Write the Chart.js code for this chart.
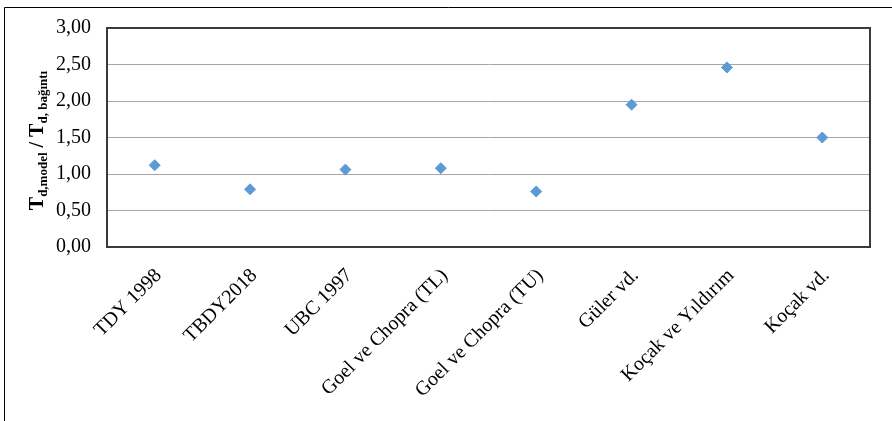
<!DOCTYPE html>
<html>
<head>
<meta charset="utf-8">
<script src="https://cdn.jsdelivr.net/npm/chart.js@4"></script>
<style>
  body { margin: 0; background: #fff; }
  #wrap { width: 892px; height: 421px; }
</style>
</head>
<body>
<div id="wrap"><canvas id="ratioChart"></canvas></div>
<script>
const categories = ['TDY 1998', 'TBDY2018', 'UBC 1997', 'Goel ve Chopra (TL)', 'Goel ve Chopra (TU)', 'Güler vd.', 'Koçak ve Yıldırım', 'Koçak vd.'];
const ratios = [1.12, 0.79, 1.06, 1.08, 0.76, 1.95, 2.46, 1.50];
const yTicks = [0, 0.5, 1, 1.5, 2, 2.5, 3];

const serif = '"Liberation Serif", "Times New Roman", serif';

// outer frame, plot frame and the y title with subscripts
const decor = {
    id: 'decor',
    beforeDatasetsDraw(chart) {
        const ctx = chart.ctx;
        const a = chart.chartArea;
        ctx.save();
        ctx.strokeStyle = '#000';
        ctx.lineWidth = 1;
        ctx.beginPath();
        ctx.moveTo(4.5, 421);
        ctx.lineTo(4.5, 7.5);
        ctx.lineTo(892, 7.5);
        ctx.stroke();

        ctx.strokeStyle = '#3a3a3a';
        ctx.lineWidth = 2;
        ctx.strokeRect(a.left, a.top, a.right - a.left, a.bottom - a.top);
        ctx.restore();
    },
    afterDraw(chart) {
        const ctx = chart.ctx;
        const a = chart.chartArea;
        const parts = [
            { t: 'T', size: 20, dy: 0 },
            { t: 'd,model', size: 13, dy: 4 },
            { t: ' / T', size: 20, dy: 0 },
            { t: 'd, bağıntı', size: 13, dy: 4 }
        ];
        ctx.save();
        ctx.fillStyle = '#000';
        let total = 0;
        parts.forEach(p => {
            ctx.font = 'bold ' + p.size + 'px ' + serif;
            p.w = ctx.measureText(p.t).width;
            total += p.w;
        });
        ctx.translate(43, (a.top + a.bottom) / 2 + 3);
        ctx.rotate(-Math.PI / 2);
        ctx.textBaseline = 'alphabetic';
        let x = -total / 2;
        parts.forEach(p => {
            ctx.font = 'bold ' + p.size + 'px ' + serif;
            ctx.fillText(p.t, x, p.dy);
            x += p.w;
        });
        ctx.restore();
    }
};

new Chart(document.getElementById('ratioChart'), {
    type: 'line',
    data: {
        labels: categories,
        datasets: [{
            data: ratios,
            showLine: false,
            pointStyle: 'rectRot',
            pointRadius: 5.5,
            pointHoverRadius: 5.5,
            pointBackgroundColor: '#5b9bd5',
            pointBorderColor: '#5b9bd5',
            pointBorderWidth: 1
        }]
    },
    options: {
        responsive: true,
        maintainAspectRatio: false,
        animation: false,
        layout: { padding: { left: 0, top: 27, right: 22, bottom: 0 } },
        plugins: {
            legend: { display: false },
            tooltip: { enabled: false }
        },
        scales: {
            x: {
                offset: true,
                grid: { display: false },
                border: { display: false },
                ticks: {
                    color: '#000',
                    font: { family: serif, size: 20 },
                    minRotation: 45,
                    maxRotation: 45,
                    padding: 9,
                    labelOffset: 4
                },
                afterFit(scale) { scale.height = 174; }
            },
            y: {
                min: 0,
                max: 3,
                afterBuildTicks(scale) { scale.ticks = yTicks.map(v => ({ value: v })); },
                grid: { color: '#a6a6a6', lineWidth: 1, drawTicks: false },
                border: { display: false },
                ticks: {
                    color: '#000',
                    font: { family: serif, size: 20 },
                    padding: 16,
                    callback: v => v.toFixed(2).replace('.', ',')
                },
                afterFit(scale) { scale.width = 107; }
            }
        }
    },
    plugins: [decor]
});
</script>
</body>
</html>
